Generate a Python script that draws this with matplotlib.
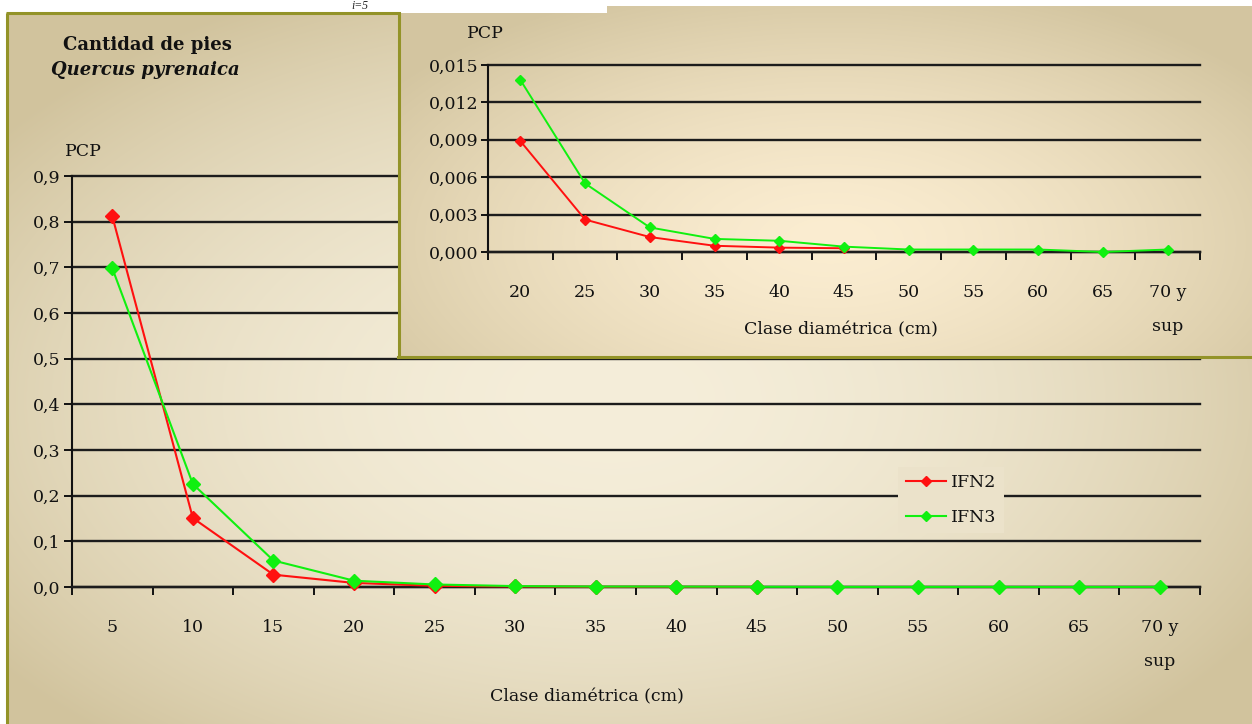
import numpy as np
import matplotlib
matplotlib.use("Agg")
import matplotlib.pyplot as plt

# ---------------- data ----------------
categories = ["5", "10", "15", "20", "25", "30", "35", "40", "45", "50", "55", "60", "65", "70 y\nsup"]
ifn2 = [0.812, 0.151, 0.027, 0.0089, 0.0026, 0.0012, 0.0005, 0.00035, 0.0003,
        np.nan, np.nan, np.nan, np.nan, np.nan]
ifn3 = [0.698, 0.2255, 0.058, 0.0138, 0.0055, 0.00197, 0.00105, 0.0009, 0.00043,
        0.0002, 0.0002, 0.0002, 0.0, 0.0002]
inset_start = 3  # inset shows classes from 20 cm

main_yticks = [0.0, 0.1, 0.2, 0.3, 0.4, 0.5, 0.6, 0.7, 0.8, 0.9]
inset_yticks = [0.0, 0.003, 0.006, 0.009, 0.012, 0.015]

W, H = 1252, 724
FONT = "DejaVu Serif"
plt.rcParams["font.family"] = [FONT]
RED = "#FF1010"
GREEN = "#10F010"
OLIVE = "#939328"
GRID = "#1c1c1c"
FS = 12.5

fig = plt.figure(figsize=(W / 100, H / 100), dpi=100)

MAIN_G = dict(cx=610, cy=400, rx=760, ry=450, c_center=(245, 238, 218), c_edge=(209, 195, 157), gamma=1.9)
INSET_G = dict(cx=830, cy=240, rx=540, ry=270, c_center=(251, 237, 209), c_edge=(211, 197, 160), gamma=1.5)


def grad(w, h, x0, y0, cx, cy, rx, ry, c_center, c_edge, gamma=1.4):
    yy, xx = np.mgrid[0:h, 0:w]
    xx = xx + x0
    yy = yy + y0
    d = np.sqrt(((xx - cx) / rx) ** 2 + ((yy - cy) / ry) ** 2)
    t = np.clip(d, 0, 1) ** gamma
    cc = np.array(c_center, float)
    ce = np.array(c_edge, float)
    img = cc[None, None, :] * (1 - t[..., None]) + ce[None, None, :] * t[..., None]
    return img / 255.0


# ---------------- background (main panel) ----------------
bg = np.ones((H, W, 3))
main_img = grad(W, H, 0, 0, **MAIN_G)
bg[13:, 7:, :] = main_img[13:, 7:, :]
ax_bg = fig.add_axes([0, 0, 1, 1], zorder=0)
ax_bg.imshow(bg, extent=(0, W, H, 0), aspect="auto", interpolation="bilinear")
ax_bg.set_xlim(0, W)
ax_bg.set_ylim(H, 0)
ax_bg.axis("off")
ax_bg.plot([7, 7], [13, H], color=OLIVE, lw=2.2, solid_capstyle="butt")
ax_bg.plot([6, 399], [13, 13], color=OLIVE, lw=2.2, solid_capstyle="butt")
ax_bg.text(360, 6, "i=5", fontsize=8.5, style="italic", ha="center", va="center",
           family="Liberation Serif", color="#222222")
ax_bg.text(147, 45, "Cantidad de pies", fontsize=13, fontweight="bold",
           ha="center", va="center", color="#111111")
ax_bg.text(145, 70, "Quercus pyrenaica", fontsize=13, fontweight="bold",
           style="italic", ha="center", va="center", color="#111111")
ax_bg.text(83, 152, "PCP", fontsize=FS, ha="center", va="center", color="#111111")
ax_bg.text(587, 697, "Clase diamétrica (cm)", fontsize=FS, ha="center", va="center",
           color="#111111")

# ---------------- main axes ----------------
ax = fig.add_axes([72 / W, 1 - 587 / H, (1200 - 72) / W, (587 - 176) / H], zorder=1)
ax.patch.set_alpha(0)
x = np.arange(len(categories))
ax.set_xlim(-0.5, len(categories) - 0.5)
ax.set_ylim(0, 0.9)
for v in main_yticks:
    ax.axhline(v, color=GRID, lw=1.7, clip_on=False, zorder=1)
ax.set_yticks(main_yticks)
ax.set_yticklabels([f"{v:.1f}".replace(".", ",") for v in main_yticks], fontsize=FS)
ax.tick_params(axis="y", direction="out", length=5.5, width=1.4, pad=3, colors="#111111")
ax.set_xticks(np.arange(-0.5, len(categories)), labels=[""] * (len(categories) + 1))
ax.set_xticks(x, labels=categories, minor=True, fontsize=FS)
ax.tick_params(axis="x", which="major", direction="out", length=6, width=1.4, color="#111111")
ax.tick_params(axis="x", which="minor", length=0, pad=23, colors="#111111")
for lab in ax.get_xticklabels(minor=True):
    lab.set_linespacing(2.3)
    lab.set_verticalalignment("top")
for s in ["top", "right"]:
    ax.spines[s].set_visible(False)
ax.spines["left"].set_linewidth(1.5)
ax.spines["bottom"].set_linewidth(1.7)
ax.spines["left"].set_color("#111111")
ax.spines["bottom"].set_color(GRID)
ax.plot(x, ifn2, color=RED, lw=1.5, marker="D", ms=7, label="IFN2", clip_on=False, zorder=3)
ax.plot(x, ifn3, color=GREEN, lw=1.5, marker="D", ms=7, label="IFN3", clip_on=False, zorder=4)

lx, ly = 951, 500
leg_col = tuple(float(c) for c in grad(1, 1, lx, ly, **MAIN_G)[0, 0])
leg = ax.legend(loc="center", bbox_to_anchor=(lx / W, 1 - ly / H),
                bbox_transform=fig.transFigure, frameon=True, fontsize=FS,
                facecolor=leg_col, edgecolor="none", framealpha=1,
                handlelength=2.3, labelspacing=1.0, borderpad=0.45,
                handletextpad=0.3, fancybox=False, markerscale=0.75)
for t in leg.get_texts():
    t.set_color("#111111")

# ---------------- inset background ----------------
ix0, iy0, ix1, iy1 = 398, 6, W, 358
iw, ih = ix1 - ix0, iy1 - iy0
inset_img = grad(iw, ih, ix0, iy0, **INSET_G)
inset_img[: 13 - iy0, : 607 - ix0, :] = 1.0
ax_ibg = fig.add_axes([ix0 / W, 1 - iy1 / H, iw / W, ih / H], zorder=2)
ax_ibg.imshow(inset_img, extent=(ix0, ix1, iy1, iy0), aspect="auto", interpolation="bilinear")
ax_ibg.set_xlim(ix0, ix1)
ax_ibg.set_ylim(iy1, iy0)
ax_ibg.axis("off")
ax_ibg.plot([ix0 + 1, ix0 + 1], [13, iy1 - 1], color=OLIVE, lw=2.2, clip_on=False)
ax_ibg.plot([ix0, ix1], [iy1 - 1, iy1 - 1], color=OLIVE, lw=2.2, clip_on=False)
ax_ibg.text(485, 33, "PCP", fontsize=FS, ha="center", va="center", color="#111111")
ax_ibg.text(841, 330, "Clase diamétrica (cm)", fontsize=FS, ha="center", va="center",
            color="#111111")

# ---------------- inset axes ----------------
axi = fig.add_axes([488 / W, 1 - 252 / H, (1200 - 488) / W, (252 - 65) / H], zorder=3)
axi.patch.set_alpha(0)
icats = categories[inset_start:]
xi = np.arange(len(icats))
axi.set_xlim(-0.5, len(icats) - 0.5)
axi.set_ylim(0, 0.015)
for v in inset_yticks:
    axi.axhline(v, color=GRID, lw=1.7, clip_on=False, zorder=1)
axi.set_yticks(inset_yticks)
axi.set_yticklabels([f"{v:.3f}".replace(".", ",") for v in inset_yticks], fontsize=FS)
axi.tick_params(axis="y", direction="out", length=5, width=1.4, pad=2, colors="#111111")
axi.set_xticks(np.arange(-0.5, len(icats)), labels=[""] * (len(icats) + 1))
axi.set_xticks(xi, labels=icats, minor=True, fontsize=FS)
axi.tick_params(axis="x", which="major", direction="out", length=6, width=1.4, color="#111111")
axi.tick_params(axis="x", which="minor", length=0, pad=23, colors="#111111")
for lab in axi.get_xticklabels(minor=True):
    lab.set_linespacing(2.3)
    lab.set_verticalalignment("top")
for s in ["top", "right"]:
    axi.spines[s].set_visible(False)
axi.spines["left"].set_linewidth(1.5)
axi.spines["bottom"].set_linewidth(1.7)
axi.spines["left"].set_color("#111111")
axi.spines["bottom"].set_color(GRID)
axi.plot(xi, ifn2[inset_start:], color=RED, lw=1.4, marker="D", ms=5, clip_on=False, zorder=3)
axi.plot(xi, ifn3[inset_start:], color=GREEN, lw=1.4, marker="D", ms=5, clip_on=False, zorder=4)

fig.savefig("out.png", dpi=100)
